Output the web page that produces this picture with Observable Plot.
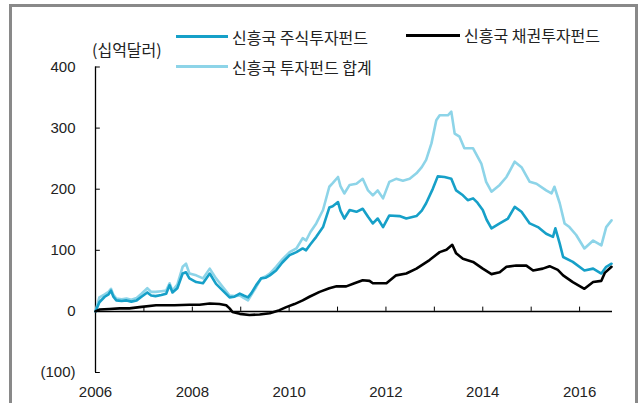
<!DOCTYPE html>
<html>
<head>
<meta charset="utf-8">
<script src="https://cdn.jsdelivr.net/npm/d3@7"></script>
<script src="https://cdn.jsdelivr.net/npm/@observablehq/plot@0.6"></script>
<style>
  body { margin: 0; background: #fff; }
  #wrap { position: relative; width: 643px; height: 403px; overflow: hidden; background: #fff; }
  #frame { position: absolute; left: 9px; top: 4px; width: 629px; height: 420px; border: 3px solid #898989; box-sizing: border-box; }
  #chart { position: absolute; left: 0; top: 0; }
  .kt { position: absolute; font-family: "Noto Sans CJK KR", sans-serif; font-size: 16px; line-height: 16px; color: #222; white-space: nowrap; }
  .sw { position: absolute; height: 3px; }
</style>
</head>
<body>
<div id="wrap">
  <div id="frame"></div>
  <div id="chart"></div>
  <div class="kt" id="unit" style="left:92px; top:41px;"></div>
  <div class="sw" style="left:176px; top:35px; width:52px; background:#16a0c8;"></div>
  <div class="kt" id="leg0" style="left:232px; top:29px;"></div>
  <div class="sw" style="left:406px; top:34px; width:54px; background:#000;"></div>
  <div class="kt" id="leg1" style="left:464px; top:27px;"></div>
  <div class="sw" style="left:176px; top:65px; width:52px; background:#8dd4e8;"></div>
  <div class="kt" id="leg2" style="left:232px; top:59px;"></div>
</div>
<script>
const unitLabel = "(십억달러)";
const seriesNames = ["신흥국 주식투자펀드", "신흥국 채권투자펀드", "신흥국 투자펀드 합계"];
const seriesColors = ["#16a0c8", "#000000", "#8dd4e8"];
const xTickLabels = [2006, 2008, 2010, 2012, 2014, 2016];
const xMinorTicks = [2007, 2008, 2009, 2010, 2011, 2012, 2013, 2014, 2015, 2016];
const yTicks = [-100, 0, 100, 200, 300, 400];

// 신흥국 주식투자펀드 (equity funds)
const equityYears = [2006.00,2006.08,2006.19,2006.27,2006.32,2006.37,2006.43,2006.54,2006.64,2006.74,
  2006.85,2006.95,2007.07,2007.15,2007.24,2007.36,2007.46,2007.53,2007.59,2007.69,
  2007.80,2007.87,2007.94,2008.08,2008.22,2008.36,2008.49,2008.63,2008.77,2008.87,
  2008.98,2009.06,2009.15,2009.22,2009.32,2009.42,2009.51,2009.60,2009.73,2009.86,
  2010.01,2010.15,2010.28,2010.35,2010.44,2010.56,2010.70,2010.83,2010.90,2011.01,
  2011.06,2011.14,2011.25,2011.39,2011.52,2011.63,2011.73,2011.83,2011.94,2012.07,
  2012.28,2012.42,2012.63,2012.74,2012.83,2012.97,2013.07,2013.21,2013.35,2013.45,
  2013.59,2013.69,2013.80,2013.89,2014.00,2014.08,2014.18,2014.35,2014.52,2014.66,
  2014.80,2014.97,2015.14,2015.31,2015.45,2015.50,2015.59,2015.66,2015.86,2016.10,
  2016.28,2016.45,2016.55,2016.66];
const equityValues = [0,15,24,28,34,24,18,17,18,16,
  18,24,31,26,25,27,29,43,31,38,
  62,64,54,48,46,62,45,34,23,24,
  29,26,23,30,43,54,55,59,67,80,
  92,97,103,100,110,122,138,170,172,179,
  165,152,166,163,168,155,144,152,138,157,
  156,152,156,165,177,201,221,220,217,198,
  190,182,185,178,166,150,136,144,152,171,
  163,144,138,127,122,136,111,89,81,67,
  70,62,73,78];

// 신흥국 투자펀드 합계 (total)
const totalYears = [2006.00,2006.08,2006.19,2006.27,2006.32,2006.37,2006.43,2006.54,2006.64,2006.74,
  2006.85,2006.95,2007.07,2007.15,2007.24,2007.36,2007.46,2007.53,2007.59,2007.69,
  2007.80,2007.87,2007.94,2008.08,2008.22,2008.36,2008.49,2008.63,2008.77,2008.87,
  2008.98,2009.06,2009.15,2009.22,2009.32,2009.42,2009.51,2009.60,2009.73,2009.86,
  2010.01,2010.15,2010.28,2010.35,2010.44,2010.56,2010.70,2010.83,2010.90,2011.01,
  2011.06,2011.14,2011.25,2011.39,2011.52,2011.63,2011.73,2011.83,2011.94,2012.07,
  2012.21,2012.35,2012.49,2012.63,2012.74,2012.83,2012.94,2013.04,2013.11,2013.28,
  2013.35,2013.42,2013.52,2013.62,2013.80,2013.97,2014.07,2014.18,2014.35,2014.49,
  2014.66,2014.80,2014.97,2015.11,2015.31,2015.42,2015.48,2015.59,2015.69,2015.79,
  2015.93,2016.10,2016.28,2016.45,2016.55,2016.66];
const totalValues = [0,23,28,32,37,27,21,20,21,19,
  22,29,38,32,32,33,34,46,34,44,
  73,78,62,59,54,70,54,40,26,25,
  26,22,18,27,40,54,57,62,73,85,
  97,103,120,116,130,144,166,204,210,220,
  205,193,207,209,217,198,190,198,185,212,
  217,214,217,226,236,248,275,313,321,321,
  327,291,286,267,267,242,212,196,207,220,
  245,236,212,209,198,193,204,177,144,138,
  125,103,116,108,138,149];

// 신흥국 채권투자펀드 (bond funds)
const bondYears = [2006.00,2006.08,2006.29,2006.50,2006.70,2006.91,2007.25,2007.63,2007.94,2008.15,
  2008.36,2008.56,2008.70,2008.77,2008.83,2008.98,2009.18,2009.39,2009.60,2009.80,
  2009.94,2010.11,2010.28,2010.42,2010.63,2010.83,2010.98,2011.18,2011.35,2011.52,
  2011.66,2011.73,2012.01,2012.21,2012.42,2012.63,2012.90,2013.11,2013.25,2013.37,
  2013.45,2013.59,2013.80,2014.00,2014.18,2014.35,2014.49,2014.69,2014.90,2015.04,
  2015.24,2015.38,2015.55,2015.66,2015.86,2016.10,2016.28,2016.45,2016.52,2016.66];
const bondValues = [0,3,4,5,5,7,10,10,11,11,
  13,12,10,5,-1,-4,-6,-5,-3,2,
  7,12,18,24,32,38,41,41,46,51,
  50,46,46,59,62,70,84,97,101,109,
  95,86,81,70,61,64,73,75,75,67,
  70,74,68,59,48,37,48,50,63,73];

const toRows = (xs, vs) => xs.map((t, i) => ({t, v: vs[i]}));
const equity = toRows(equityYears, equityValues);
const total = toRows(totalYears, totalValues);
const bond = toRows(bondYears, bondValues);

document.getElementById("unit").textContent = unitLabel;
document.getElementById("leg0").textContent = seriesNames[0];
document.getElementById("leg1").textContent = seriesNames[1];
document.getElementById("leg2").textContent = seriesNames[2];

const chart = Plot.plot({
  width: 643,
  height: 403,
  marginLeft: 95,
  marginRight: 31,
  marginTop: 66.5,
  marginBottom: 31,
  x: {domain: [2006, 2016.68], label: null},
  y: {domain: [-100, 400], label: null},
  style: {background: "transparent", fontFamily: "'Liberation Sans', Arial, sans-serif", fontSize: "15px", color: "#222"},
  marks: [
    Plot.axisX({ticks: xTickLabels, tickSize: 0, tickPadding: 14, tickFormat: d => String(d), fontSize: 15, label: null}),
    Plot.axisY({ticks: yTicks, tickSize: 0, tickPadding: 20, tickFormat: d => d < 0 ? `(${-d})` : String(d), fontSize: 15, label: null}),
    Plot.ruleX([2006], {y1: -100, y2: 400, stroke: "#000", strokeWidth: 1.3}),
    Plot.ruleY(yTicks.filter(d => d !== 0), {x1: 2006, x2: 2006.1, stroke: "#000", strokeWidth: 1}),
    Plot.ruleX(xMinorTicks, {y1: 0, y2: 7, stroke: "#000", strokeWidth: 1}),
    Plot.ruleY([0], {stroke: "#000", strokeWidth: 1.5}),
    Plot.line(total, {x: "t", y: "v", stroke: seriesColors[2], strokeWidth: 2.6, strokeLinejoin: "round"}),
    Plot.line(equity, {x: "t", y: "v", stroke: seriesColors[0], strokeWidth: 2.6, strokeLinejoin: "round"}),
    Plot.line(bond, {x: "t", y: "v", stroke: seriesColors[1], strokeWidth: 2.6, strokeLinejoin: "round"})
  ]
});
document.getElementById("chart").appendChild(chart);
</script>
</body>
</html>
